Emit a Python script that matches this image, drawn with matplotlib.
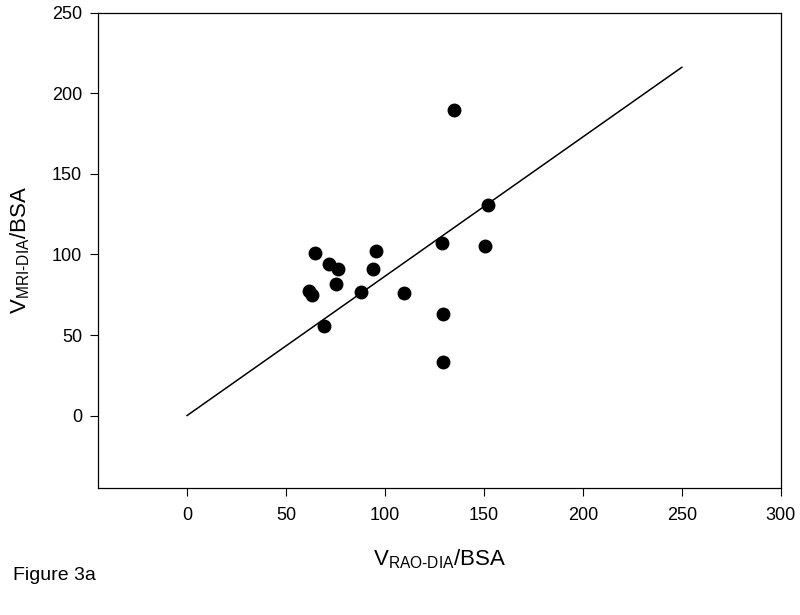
import matplotlib
matplotlib.use("Agg")
import matplotlib.pyplot as plt
import numpy as np

# values
rao_dia = [64.8, 71.9, 76.5, 95.4, 93.9, 75.5, 61.6, 63.2, 87.7, 109.6,
           129.0, 150.5, 129.5, 129.5, 69.0, 135.0, 152.0]
mri_dia = [101.0, 93.8, 90.9, 102.0, 91.0, 81.4, 77.2, 74.7, 76.8, 76.3,
           107.0, 105.2, 63.3, 33.0, 55.6, 190.0, 130.5]
line_x = [0, 250]
slope = 0.865
x_ticks = [0, 50, 100, 150, 200, 250, 300]
y_ticks = [0, 50, 100, 150, 200, 250]

plt.rcParams["font.family"] = ["Liberation Sans", "DejaVu Sans"]
plt.rcParams["mathtext.fontset"] = "custom"
plt.rcParams["mathtext.rm"] = "Liberation Sans"

fig = plt.figure(figsize=(8, 6.15), dpi=100)
ax = fig.add_axes([0.1225, 0.2065, 0.976 - 0.1225, 0.979 - 0.2065])

ax.plot(line_x, [slope * v for v in line_x], color="black", linewidth=1.1)
ax.plot(rao_dia, mri_dia, "o", color="black", markersize=9, linestyle="none")

ax.set_xlim(-45, 300)
ax.set_ylim(-45, 250)
ax.set_xticks(x_ticks)
ax.set_yticks(y_ticks)
ax.tick_params(direction="out", length=5.5, width=0.8, labelsize=13, pad=6)
ax.tick_params(axis="x", pad=8)
for s in ax.spines.values():
    s.set_linewidth(0.9)

ax.set_xlabel(r"V$_{\mathrm{RAO\text{-}DIA}}$/BSA", fontsize=16, labelpad=17)
ax.set_ylabel(r"V$_{\mathrm{MRI\text{-}DIA}}$/BSA", fontsize=16, labelpad=14)

fig.text(0.016, 0.057, "Figure 3a", fontsize=14, ha="left", va="baseline")

fig.savefig("out.png", dpi=100)
